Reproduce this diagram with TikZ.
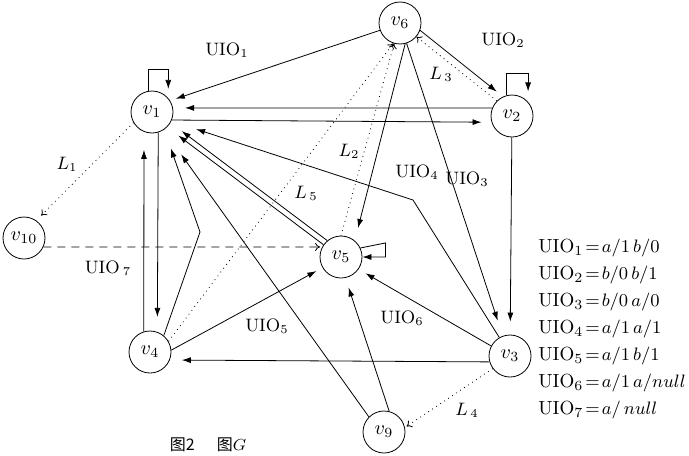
\documentclass[tikz,border=0pt]{standalone}
\usepackage{amsmath}
\usepackage{fontspec}
\newfontfamily\cjkfont{Noto Sans CJK SC}
\usepackage{tikz}
\usetikzlibrary{arrows.meta}

\begin{document}
\begin{tikzpicture}[x=0.5pt,y=-0.5pt,
    state/.style={draw,circle,minimum size=21pt,inner sep=0pt},
    tag/.style={font=\fontsize{9}{11}\selectfont},
    link/.style={-{Latex[length=4.5pt,width=3pt]},shorten >=#1},
    link/.default=5pt,
    probe/.style={dotted,-{To[length=2.5pt,width=4pt]},shorten >=#1},
    probe/.default=0pt]

\useasboundingbox (0,0) rectangle (689,455);

% States
\node[state] (v1) at (152,112) {$v_1$};
\node[state] (v2) at (512,116) {$v_2$};
\node[state] (v3) at (510,356) {$v_3$};
\node[state] (v4) at (150,352) {$v_4$};
\node[state] (v5) at (341,257) {$v_5$};
\node[state] (v6) at (400,23) {$v_6$};
\node[state] (v9) at (384,432) {$v_9$};
\node[state] (v10) at (24,238) {$v_{10}$};

% Bends
\coordinate (k4) at (413,200);
\coordinate (k7) at (200,232);

% Self loops
\draw[link=0pt] (v1.100) |- ++(20,-22) -- ++(0,20);
\draw[link=0pt] (v2.106) |- ++(22,-22) -- ++(0,18);
\draw[link=0pt] (v5.25) -- ++(25,-5) |- (v5.east);

% Transitions
\draw[link=3pt] (v6.200) -- (v1.32);
\draw[link=4pt] (v6.-20) -- (v2.115);
\draw[link=6pt] (v2.158) -- (v1.11);
\draw[link] (v1.-22) -- (v2.197);
\draw[link=6.5pt] (v2) -- (v3);
\draw[link=8pt] (v6.-72) -- (v3.110);
\draw[link=6.5pt] (v6.-76) -- (v5.50);
\draw[link=7pt] (v5.130) -- (v1.-30);
\draw[link=7pt] (v5.145) -- (v1.-45);
\draw[link=13pt] (v3.120) -- (k4) -- (v1.-25);
\draw[link=10pt] (v4.50) -- (k7) -- (v1.-55);
\draw[link=15pt] (v9.135) -- (v1.-57);
\draw[link=9pt] (v4.107) -- (v1.-112);
\draw[link=7.5pt] (v1.-73) -- (v4.70);
\draw[link=6pt] (v3.196) -- (v4.-22);
\draw[link=3.5pt] (v4.5) -- (v5.210);
\draw[link=4pt] (v3.152) -- (v5.-35);
\draw[link] (v9.76) -- (v5.-78);

% Dotted and dashed paths
\draw[probe=3.5pt] (v1.-150) -- (v10.55);
\draw[probe] (v2.135) -- (v6.-40);
\draw[probe] (v5.north) -- (v6.-106);
\draw[probe] (v4.30) -- (v6.-108);
\draw[probe=1pt] (v3.216) -- (v9.12);
\draw[probe=1pt,dash pattern=on 4pt off 3pt] (v10.-25) -- (v5.152);

% Labels
\node[tag] (uio1) at (227,50) {$\mathrm{UIO}_1$};
\node[tag] (uio2) at (503,40) {$\mathrm{UIO}_2$};
\node[tag] (uio3) at (467,179) {$\mathrm{UIO}_3$};
\node[tag] (uio4) at (417,172) {$\mathrm{UIO}_4$};
\node[tag] (uio5) at (267,326) {$\mathrm{UIO}_5$};
\node[tag] (uio6) at (402,318) {$\mathrm{UIO}_6$};
\node[tag] (uio7) at (108,268) {$\mathrm{UIO}\,{}_7$};
\node[tag] (l1) at (67,164) {$L_1$};
\node[tag] (l2) at (349,151) {$L_2$};
\node[tag] (l3) at (441,74) {$L_{\,3}$};
\node[tag] (l4) at (467,410) {$L_{\,4}$};
\node[tag] (l5) at (306,193) {$L_{\,5}$};

% Legend
\node[anchor=west,align=left,inner sep=0pt,
    font=\fontsize{9.5}{11.5}\selectfont] (legend) at (538,329) {%
    $\mathrm{UIO}_1\!=\!a/1\,b/0$\\[2pt]
    $\mathrm{UIO}_2\!=\!b/0\,b/1$\\[2pt]
    $\mathrm{UIO}_3\!=\!b/0\,a/0$\\[2pt]
    $\mathrm{UIO}_4\!=\!a/1\,a/1$\\[2pt]
    $\mathrm{UIO}_5\!=\!a/1\,b/1$\\[2pt]
    $\mathrm{UIO}_6\!=\!a/1\,a/null$\\[2pt]
    $\mathrm{UIO}_7\!=\!a/\,null$};

% Caption
\node[font=\fontsize{8}{9.5}\selectfont] (caption) at (208,445)
    {\cjkfont 图2\hspace{11pt}图$G$};

\end{tikzpicture}
\end{document}
